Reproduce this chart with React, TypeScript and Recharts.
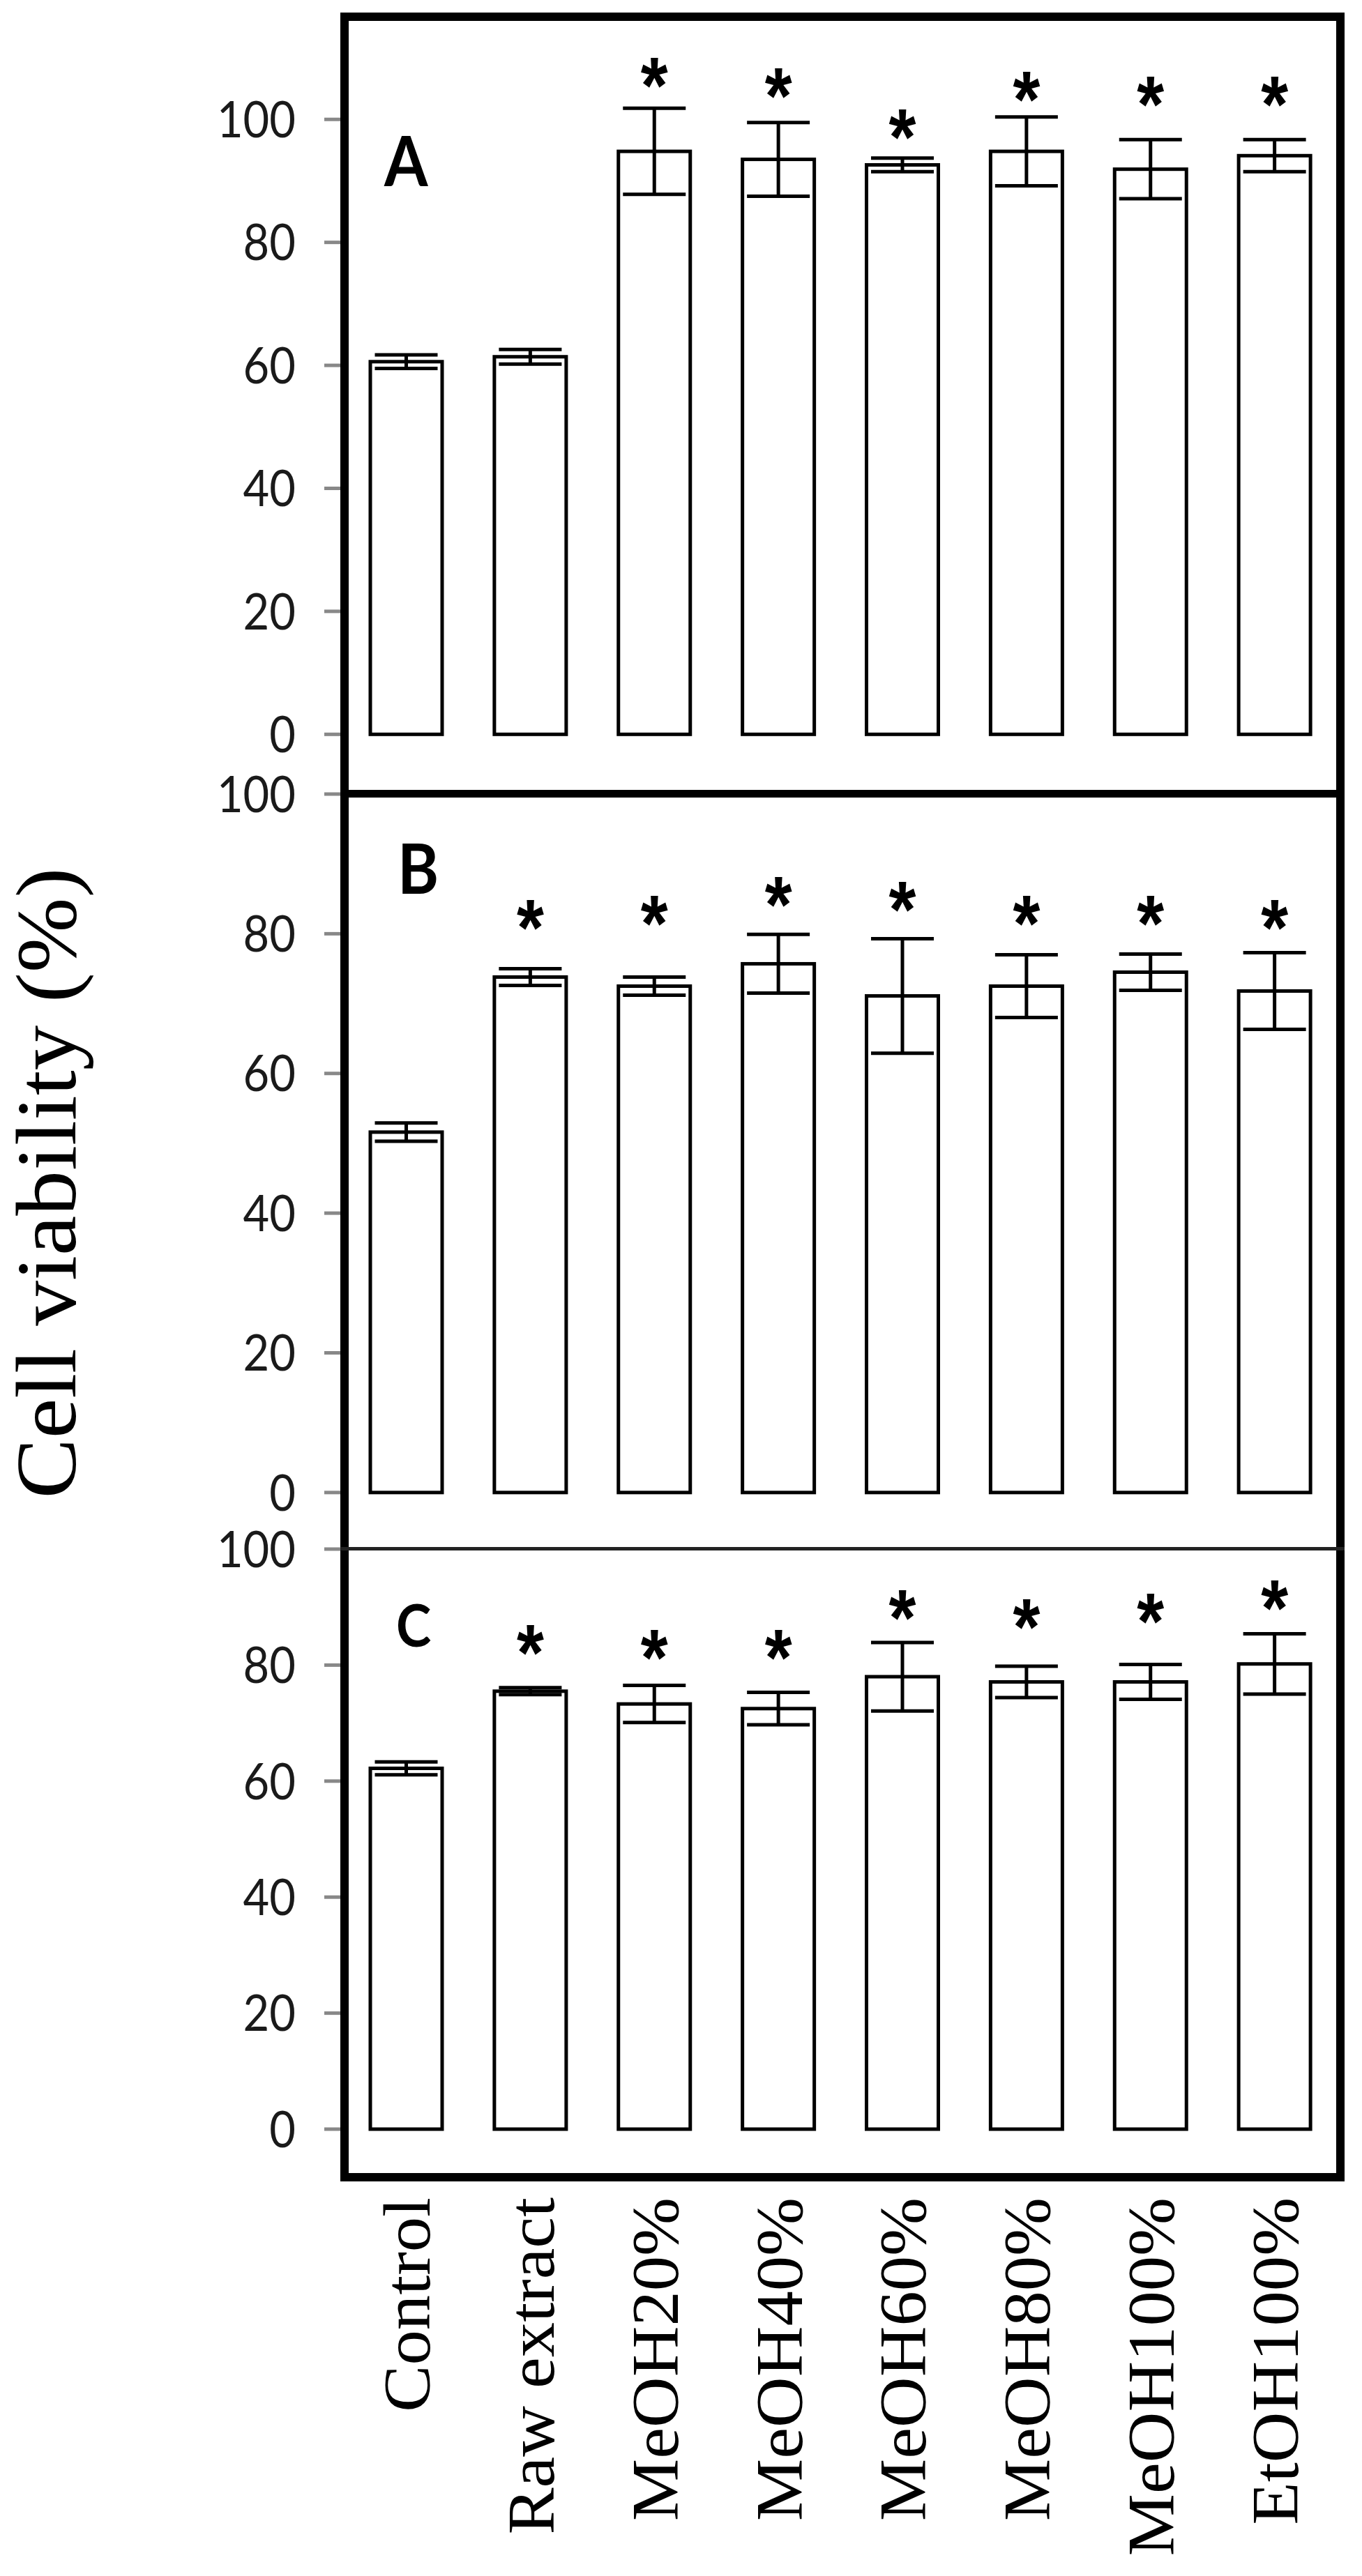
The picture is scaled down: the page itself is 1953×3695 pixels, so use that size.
import { BarChart, Bar, XAxis, YAxis, ErrorBar } from "recharts";

const categories = ["Control", "Raw extract", "MeOH20%", "MeOH40%", "MeOH60%", "MeOH80%", "MeOH100%", "EtOH100%"];

const meanA = [60.6, 61.4, 94.8, 93.5, 92.6, 94.8, 91.9, 94.1];
const sdA = [1.1, 1.2, 7.0, 6.0, 1.1, 5.6, 4.8, 2.6];
const starA = [null, null, 108.7, 107.0, 100.3, 106.4, 105.6, 105.6];

const meanB = [51.6, 73.8, 72.5, 75.7, 71.1, 72.5, 74.5, 71.8];
const sdB = [1.3, 1.2, 1.3, 4.2, 8.2, 4.5, 2.6, 5.5];
const starB = [null, 83.7, 84.3, 87.0, 86.3, 84.3, 84.3, 83.7];

const meanC = [62.2, 75.5, 73.3, 72.5, 78.0, 77.1, 77.1, 80.2];
const sdC = [1.1, 0.6, 3.2, 2.8, 5.9, 2.7, 3.0, 5.2];
const starC = [null, 85.5, 84.6, 84.6, 91.5, 89.9, 90.9, 93.2];

const yTicks = [0, 20, 40, 60, 80, 100];

const STAR_FS = 100;

function BarShape(props: any) {
  const { x, y, width, height, payload } = props;
  const base = y + height;
  const pxPerUnit = height / payload.mean;
  const cx = x + width / 2;
  return (
    <g>
      <rect x={x} y={y} width={width} height={height} fill="#fff" stroke="#000" strokeWidth={5} />
      {payload.star != null && (
        <text
          transform={`translate(${cx},${base - payload.star * pxPerUnit}) scale(1,1.15)`}
          y={STAR_FS * 0.585}
          textAnchor="middle"
          fontFamily="Liberation Sans"
          fontWeight="bold"
          fontSize={STAR_FS}
          fill="#000"
        >
          *
        </text>
      )}
    </g>
  );
}

function ValueTick(props: any) {
  const { x, y, payload } = props;
  return (
    <g>
      <line x1={x - 29} x2={x - 6} y1={y} y2={y} stroke="#888" strokeWidth={5} />
      <text
        transform={`translate(${x - 70},${y}) scale(1,1.1)`}
        textAnchor="end"
        dy="0.36em"
        fontFamily="Lato"
        fontSize={65}
        fill="#1a1a1a"
      >
        {payload.value}
      </text>
    </g>
  );
}

function CategoryTick(props: any) {
  const { x, y, payload } = props;
  return (
    <text
      transform={`translate(${x + 33},${y + 30}) rotate(-90) scale(1.06,1)`}
      textAnchor="end"
      fontFamily="Liberation Serif"
      fontSize={95}
      fill="#000"
    >
      {payload.value}
    </text>
  );
}

function Panel({ means, sds, stars, top, marginTop, plotHeight, marginBottom, domain, showX }: any) {
  const data = categories.map((name, i) => ({ name, mean: means[i], sd: sds[i], star: stars[i] }));
  const xAxisH = showX ? 560 : 0;
  return (
    <div style={{ position: "absolute", left: 0, top }}>
      <BarChart
        width={1953}
        height={marginTop + plotHeight + marginBottom + xAxisH}
        data={data}
        margin={{ top: marginTop, right: 36, bottom: marginBottom, left: 0 }}
      >
        <XAxis
          dataKey="name"
          hide={!showX}
          height={xAxisH}
          axisLine={false}
          tickLine={false}
          tickSize={0}
          tickMargin={0}
          interval={0}
          tick={(p: any) => <CategoryTick {...p} />}
        />
        <YAxis
          type="number"
          domain={domain}
          ticks={yTicks}
          allowDataOverflow
          width={494}
          axisLine={false}
          tickLine={false}
          tickSize={0}
          tickMargin={0}
          tick={(p: any) => <ValueTick {...p} />}
        />
        <Bar dataKey="mean" barSize={103} isAnimationActive={false} shape={(p: any) => <BarShape {...p} />}>
          <ErrorBar dataKey="sd" width={45} strokeWidth={5} stroke="#000" />
        </Bar>
      </BarChart>
    </div>
  );
}

export default function App() {
  return (
    <div style={{ position: "absolute", left: 0, top: 0, width: 1953, height: 3695, background: "#fff" }}>
      <Panel means={meanA} sds={sdA} stars={starA} top={0} marginTop={31} plotHeight={1107} marginBottom={40} domain={[-9.6, 115.9]} showX={false} />
      <Panel means={meanB} sds={sdB} stars={starB} top={1079} marginTop={60} plotHeight={1083} marginBottom={40} domain={[-8.1, 100]} showX={false} />
      <Panel means={meanC} sds={sdC} stars={starC} top={2162} marginTop={60} plotHeight={900} marginBottom={0} domain={[-8.17, 100]} showX={true} />

      <div style={{ position: "absolute", left: 488, top: 18, width: 1440, height: 3111, border: "12px solid #000", boxSizing: "border-box", pointerEvents: "none" }} />
      <div style={{ position: "absolute", left: 488, top: 1133, width: 1440, height: 11, background: "#000" }} />
      <div style={{ position: "absolute", left: 488, top: 2219, width: 1440, height: 5, background: "#222" }} />

      <svg width={1953} height={3695} style={{ position: "absolute", left: 0, top: 0, pointerEvents: "none" }}>
        <text transform="translate(108,1697) rotate(-90) scale(1.06,1)" textAnchor="middle" fontFamily="Liberation Serif" fontSize={122} fill="#000">
          Cell viability (%)
        </text>
        <text transform="translate(551,267) scale(1,1.1)" fontFamily="Lato" fontWeight="bold" fontSize={90} fill="#000">A</text>
        <text transform="translate(570,1282) scale(1,1.1)" fontFamily="Lato" fontWeight="bold" fontSize={90} fill="#000">B</text>
        <text transform="translate(568,2362) scale(1,1.1)" fontFamily="Lato" fontWeight="bold" fontSize={76} fill="#000">C</text>
      </svg>
    </div>
  );
}
